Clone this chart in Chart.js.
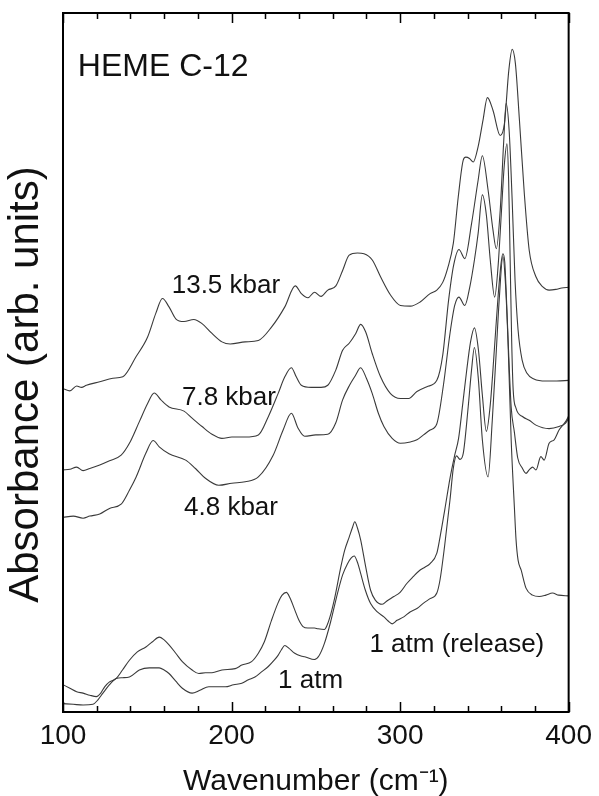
<!DOCTYPE html>
<html lang="en">
<head>
<meta charset="UTF-8">
<title>HEME C-12</title>
<script src="https://cdn.jsdelivr.net/npm/chart.js"></script>
<style>
    body { margin: 0; padding: 0; background: #fff; }
    #wrap { width: 599px; height: 796px; }
</style>
</head>
<body>
<div id="wrap"><canvas id="spectra" width="599" height="796"></canvas></div>
<script>
// [wavenumber (cm-1), absorbance (arb. units)]
const kbar135 = [[100,46.2],[104.1,45.9],[108.1,46.6],[111,46.4],[113.9,46.7],[121.8,47.2],[129.6,47.7],[135.5,47.9],[143.4,50.8],[150.2,53.6],[155.1,57.0],[159,59.1],[162.9,57.9],[166.9,56.2],[171.8,55.8],[177.6,56.1],[182.5,55.5],[188.4,54.1],[194.3,52.9],[199.2,52.6],[208.1,52.9],[215.9,53.1],[223.7,55.0],[231.6,57.9],[237.8,60.9],[241.4,59.8],[245.3,59.2],[249.2,60.0],[253.1,59.4],[257.1,60.3],[261.9,60.9],[265.9,63.1],[269.8,65.3],[274.7,65.6],[278.6,65.5],[283.5,64.6],[288.4,62.2],[294.3,59.6],[300.2,58.1],[306.1,58.0],[311.9,58.6],[317.8,59.8],[321.8,60.3],[325.3,61.4],[328.2,63.4],[331.6,67.0],[334.5,73.6],[337.5,78.9],[339,79.3],[341.2,79.1],[343.4,78.6],[346.3,80.8],[349.2,84.6],[351.8,87.8],[355.1,86.0],[359.4,82.4],[361.9,84.1],[364.5,91.7],[366.5,94.7],[368.4,92.7],[370.8,84.6],[373.7,74.1],[376.6,66.0],[380.6,62.2],[384.5,60.8],[388.4,60.3],[392.4,60.4],[395.9,60.6],[400,60.7]];
const kbar78 = [[100,34.6],[104.1,34.7],[108.1,35.0],[111.9,34.5],[115.9,34.8],[121.8,35.3],[127.6,35.9],[134.5,36.7],[139.4,38.4],[145.3,41.5],[150.2,44.1],[154.1,45.6],[158.1,44.6],[162.9,43.6],[171.8,43.0],[176.6,42.0],[182.5,40.8],[188.4,39.7],[194.3,39.1],[200.2,39.3],[208.1,39.3],[215.9,39.6],[221.8,42.2],[227.6,45.5],[231.6,47.9],[235.5,49.2],[238.4,47.9],[241.4,46.7],[247.2,46.4],[253.1,46.4],[257.1,46.7],[261.9,48.9],[265.9,51.7],[269.8,52.7],[273.7,54.1],[276.6,55.4],[279.6,54.3],[283.5,51.2],[288.4,47.9],[294.3,45.5],[300.2,44.8],[305.1,44.8],[310,45.8],[315.9,46.5],[321.8,47.4],[325.3,51.0],[328.8,58.9],[331.8,63.9],[334.9,66.1],[338.4,64.8],[342.4,69.8],[346.3,76.0],[348.8,79.5],[352.2,74.6],[355.1,68.9],[357.1,66.2],[359.4,71.7],[361.4,81.2],[362.9,87.0],[364.7,83.1],[366.5,73.1],[368.2,61.7],[370,54.6],[372.4,50.3],[375.3,48.4],[379.4,47.6],[386.5,47.3],[393,47.3],[400,47.4]];
const kbar48 = [[100,27.8],[106.1,28.0],[111.9,27.7],[115.9,28.0],[121.8,28.3],[127.6,29.1],[134.5,29.7],[139.4,31.7],[143.4,33.6],[149.2,37.0],[153.5,38.8],[157.1,37.9],[162.9,36.9],[172.8,36.0],[178.6,34.8],[184.5,33.4],[192.4,32.4],[200.2,32.7],[208.1,32.9],[215.9,33.6],[224.7,36.7],[230.6,40.3],[235.5,42.7],[239.4,40.6],[243.4,39.4],[250,39.6],[257.1,39.7],[261.8,41.3],[265.9,44.6],[270,46.7],[273.5,48.1],[276.6,49.2],[280,47.7],[283.5,45.5],[287.1,42.7],[290.4,40.8],[295.3,39.1],[300.2,38.4],[306.1,38.6],[310,38.9],[313.9,39.6],[317.8,40.3],[321.8,41.2],[325.7,46.7],[329.6,54.1],[332.4,58.1],[334.9,59.3],[338.4,58.1],[341.4,60.8],[344.1,64.6],[346.3,68.4],[348.8,73.9],[351.2,71.0],[353.5,64.6],[356.1,59.3],[358.2,63.9],[360,71.0],[361.8,78.1],[363.4,81.2],[364.4,76.0],[365.3,64.6],[366.2,53.1],[367.1,46.0],[368.8,43.4],[372.8,42.2],[376.6,41.7],[380.6,41.0],[388.4,40.5],[394.3,40.8],[398.2,41.3],[400,42.0]];
const atmRelease = [[100,3.9],[104.1,3.4],[108.1,2.9],[111.9,2.7],[115.9,2.4],[119.8,2.2],[122.4,2.7],[124.7,3.6],[127.6,4.3],[131.6,4.8],[135.3,6.0],[139.4,7.4],[144.1,8.6],[149.2,9.3],[152.9,10.0],[157.1,10.7],[160,10.3],[162.9,9.6],[166.9,8.4],[170.8,7.2],[176.6,6.0],[180.6,5.5],[184.5,5.6],[188.4,5.6],[194.3,6.0],[202.2,6.2],[206.1,6.7],[211.9,7.2],[215.9,8.4],[219.4,10.0],[223.7,13.1],[227.6,15.6],[230,16.7],[232.5,17.1],[234.7,16.3],[237.5,14.6],[240,13.1],[242.4,12.2],[245.3,12.0],[249.2,12.0],[251.2,11.9],[255.1,11.8],[256.5,12.3],[259,14.1],[261.2,16.3],[264.9,20.8],[267.1,23.1],[269.8,25.0],[271.8,26.4],[273.1,27.2],[274.7,26.3],[276.6,24.6],[279.4,21.0],[282.5,17.4],[285.3,16.0],[289.4,15.4],[292.4,15.9],[296.3,16.5],[300,17.1],[304.1,18.4],[307.6,19.3],[311.9,20.3],[314.7,20.7],[317.8,21.2],[321.8,22.7],[323.7,25.0],[326.5,28.9],[329.6,33.4],[332.4,36.7],[334.7,39.1],[337.1,43.9],[339.4,48.6],[341.8,52.9],[344.1,54.9],[346.5,51.7],[348.8,45.3],[351.2,40.1],[353.5,43.9],[355.9,51.7],[358.2,59.6],[360,64.3],[361,65.5],[362.1,64.3],[362.9,60.3],[364.1,53.1],[365.9,43.6],[367.8,40.0],[369.8,36.3],[372.4,34.9],[374.7,34.1],[376.6,34.6],[378.6,35.0],[380.6,34.6],[383.5,36.5],[385.5,36.0],[388.4,38.4],[391.4,38.9],[394.3,40.3],[398.2,41.5],[400,42.3]];
const atm1 = [[100,1.2],[106.1,1.1],[111.9,1.0],[117.8,1.1],[120.6,1.7],[123.7,2.7],[127.6,3.9],[131.6,4.8],[135.3,4.9],[139.4,5.0],[145.3,6.0],[151.2,6.3],[157.1,6.3],[160,6.0],[162.9,5.5],[166.9,4.4],[170.8,3.4],[176.6,2.7],[181.2,3.1],[186.5,3.6],[191.2,3.6],[196.3,3.6],[201.2,3.9],[206.1,4.1],[210,4.6],[213.9,5.0],[217.6,5.7],[221.8,6.5],[225.3,7.4],[227.6,8.1],[229.6,8.9],[231.6,9.5],[234.1,9.1],[237.5,8.4],[241.2,8.0],[243.4,7.9],[249.2,7.5],[251.8,8.0],[255.1,9.8],[258.8,12.9],[262.9,17.0],[265.9,19.6],[268.8,21.2],[270.9,22.0],[272.8,22.3],[274.7,21.4],[276.6,19.8],[279.4,17.4],[282.5,15.5],[286.5,14.3],[290.4,13.6],[292.9,13.0],[295.3,12.6],[298.2,13.1],[302.2,13.6],[305.9,14.3],[310,14.8],[314.1,15.6],[317.8,16.2],[321.8,17.0],[323.7,18.9],[326.5,23.9],[329.6,30.3],[331.6,34.9],[333.5,36.6],[335.5,36.1],[337.5,37.0],[340.4,43.6],[342.4,48.9],[344.1,52.1],[346.5,47.4],[348.8,38.9],[352.2,33.6],[354.7,41.7],[357.1,51.7],[358.8,58.9],[361,65.1],[362.4,61.7],[364,53.1],[365.9,38.9],[367.8,29.3],[368.8,24.6],[370,21.7],[371.8,20.3],[374.7,17.7],[378.6,16.7],[382.5,16.5],[386.5,16.7],[390.4,17.0],[394.1,16.7],[400,16.6]];

const xTicks = [100, 200, 300, 400];
const yTitle = 'Absorbance (arb. units)';

// text placed on the plot (anchor = left end of the baseline, in data units)
const curveLabels = [
    { text: 'HEME C-12', wn: 108.8, ab: 90.9, size: 32 },
    { text: '13.5 kbar', wn: 164.5, ab: 59.9, size: 26 },
    { text: '7.8 kbar', wn: 170.6, ab: 43.9, size: 26 },
    { text: '4.8 kbar', wn: 171.8, ab: 28.1, size: 26 },
    { text: '1 atm (release)', wn: 281.8, ab: 8.6, size: 26 },
    { text: '1 atm', wn: 227.6, ab: 3.4, size: 26 }
];

const FONT = "'Liberation Sans', Arial, Helvetica, sans-serif";

function toPoints(arr) {
    return arr.map(p => ({ x: p[0], y: p[1] }));
}

function spectrum(label, arr) {
    return {
        label: label,
        data: toPoints(arr),
        borderColor: '#3a3a3a',
        borderWidth: 1.1,
        pointRadius: 0,
        fill: false,
        cubicInterpolationMode: 'monotone'
    };
}

// frame with inward ticks on top and bottom, the y title and the text annotations
const framePlugin = {
    id: 'framePlugin',
    afterDatasetsDraw(chart) {
        const { ctx, chartArea: a, scales } = chart;
        const x = scales.x, y = scales.y;
        ctx.save();
        ctx.strokeStyle = '#000';
        ctx.lineWidth = 1.5;
        for (let v = x.min; v <= x.max; v += 20) {
            const px = Math.round(x.getPixelForValue(v)) + 0.5;
            const len = xTicks.includes(v) ? 10 : 6;
            ctx.beginPath();
            ctx.moveTo(px, a.bottom);
            ctx.lineTo(px, a.bottom - len);
            ctx.moveTo(px, a.top);
            ctx.lineTo(px, a.top + len);
            ctx.stroke();
        }
        ctx.lineWidth = 2;
        ctx.strokeRect(a.left, a.top, a.right - a.left, a.bottom - a.top);

        ctx.fillStyle = '#111';
        ctx.textAlign = 'left';
        ctx.textBaseline = 'alphabetic';
        curveLabels.forEach(l => {
            ctx.font = l.size + 'px ' + FONT;
            ctx.fillText(l.text, x.getPixelForValue(l.wn), y.getPixelForValue(l.ab));
        });

        // y axis title, a bit below the plot centre as in the figure
        ctx.save();
        ctx.translate(26, (a.top + a.bottom) / 2 + 22);
        ctx.rotate(-Math.PI / 2);
        ctx.font = '42px ' + FONT;
        ctx.textAlign = 'center';
        ctx.textBaseline = 'middle';
        ctx.fillText(yTitle, 0, 0);
        ctx.restore();

        ctx.restore();
    }
};

new Chart(document.getElementById('spectra'), {
    type: 'line',
    data: {
        datasets: [
            spectrum('13.5 kbar', kbar135),
            spectrum('7.8 kbar', kbar78),
            spectrum('4.8 kbar', kbar48),
            spectrum('1 atm (release)', atmRelease),
            spectrum('1 atm', atm1)
        ]
    },
    options: {
        responsive: false,
        animation: false,
        layout: { padding: { top: 13, right: 26, left: 0, bottom: 0 } },
        plugins: {
            legend: { display: false },
            tooltip: { enabled: false }
        },
        scales: {
            x: {
                type: 'linear',
                min: 100,
                max: 400,
                afterFit: s => { s.height = 84; },
                afterBuildTicks: s => { s.ticks = xTicks.map(v => ({ value: v })); },
                grid: { display: false, drawTicks: false },
                border: { display: false },
                ticks: {
                    color: '#111',
                    padding: 7,
                    maxRotation: 0,
                    autoSkip: false,
                    font: { family: FONT, size: 28, lineHeight: 1.2 }
                },
                title: {
                    display: true,
                    text: 'Wavenumber (cm\u207B\u00B9)',
                    color: '#111',
                    padding: 0,
                    font: { family: FONT, size: 30, lineHeight: 0.93 }
                }
            },
            y: {
                type: 'linear',
                min: 0,
                max: 99.9,
                afterFit: s => { s.width = 63; },
                grid: { display: false, drawTicks: false },
                border: { display: false },
                ticks: { display: false },
                title: { display: false, text: yTitle }
            }
        }
    },
    plugins: [framePlugin]
});
</script>
</body>
</html>
